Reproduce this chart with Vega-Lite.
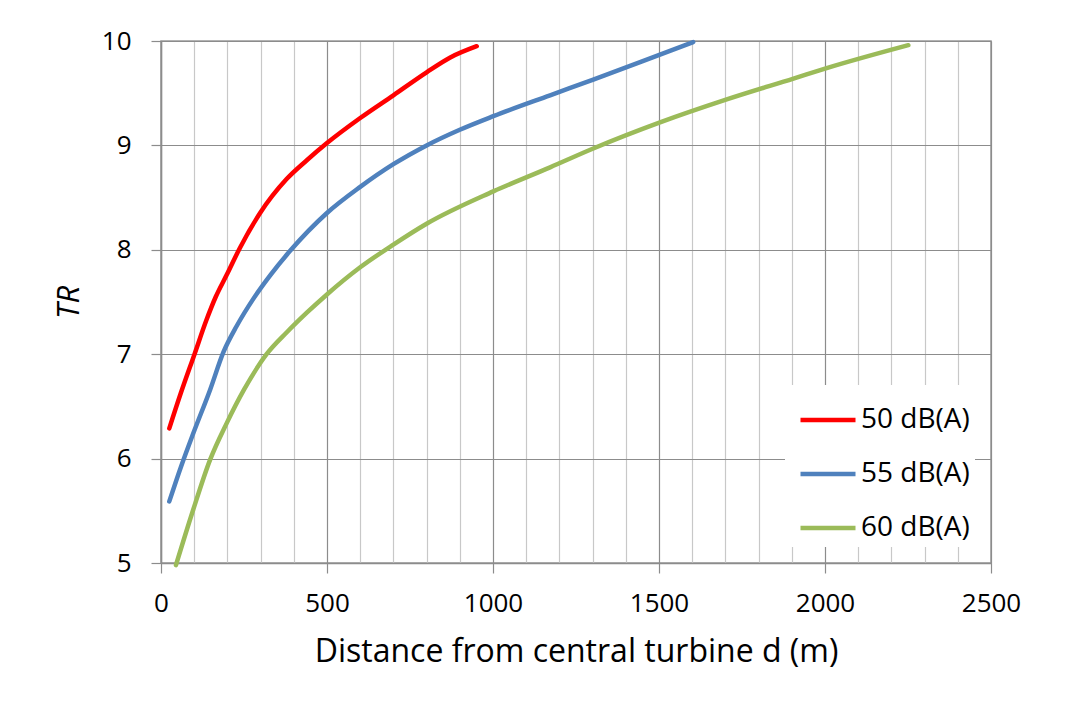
{
  "$schema": "https://vega.github.io/schema/vega-lite/v6.json",
  "width": 830,
  "height": 522,
  "autosize": {"type": "none"},
  "padding": {"left": 161, "top": 41, "right": 78, "bottom": 139},
  "background": "white",
  "config": {
    "font": "Open Sans",
    "view": {"stroke": "#999999", "strokeWidth": 1.5}
  },
  "data": {
    "values": [
      {"d": 25, "TR": 6.29, "series": "50 dB(A)"},
      {"d": 60, "TR": 6.63, "series": "50 dB(A)"},
      {"d": 102, "TR": 7.01, "series": "50 dB(A)"},
      {"d": 136, "TR": 7.32, "series": "50 dB(A)"},
      {"d": 165, "TR": 7.55, "series": "50 dB(A)"},
      {"d": 198, "TR": 7.76, "series": "50 dB(A)"},
      {"d": 238, "TR": 8.02, "series": "50 dB(A)"},
      {"d": 298, "TR": 8.35, "series": "50 dB(A)"},
      {"d": 379, "TR": 8.68, "series": "50 dB(A)"},
      {"d": 440, "TR": 8.86, "series": "50 dB(A)"},
      {"d": 499, "TR": 9.02, "series": "50 dB(A)"},
      {"d": 599, "TR": 9.26, "series": "50 dB(A)"},
      {"d": 700, "TR": 9.48, "series": "50 dB(A)"},
      {"d": 800, "TR": 9.7, "series": "50 dB(A)"},
      {"d": 870, "TR": 9.84, "series": "50 dB(A)"},
      {"d": 951, "TR": 9.95, "series": "50 dB(A)"},
      {"d": 25, "TR": 5.59, "series": "55 dB(A)"},
      {"d": 60, "TR": 5.92, "series": "55 dB(A)"},
      {"d": 97, "TR": 6.24, "series": "55 dB(A)"},
      {"d": 148, "TR": 6.66, "series": "55 dB(A)"},
      {"d": 188, "TR": 7.02, "series": "55 dB(A)"},
      {"d": 228, "TR": 7.27, "series": "55 dB(A)"},
      {"d": 278, "TR": 7.53, "series": "55 dB(A)"},
      {"d": 330, "TR": 7.76, "series": "55 dB(A)"},
      {"d": 389, "TR": 7.99, "series": "55 dB(A)"},
      {"d": 499, "TR": 8.35, "series": "55 dB(A)"},
      {"d": 599, "TR": 8.6, "series": "55 dB(A)"},
      {"d": 700, "TR": 8.82, "series": "55 dB(A)"},
      {"d": 800, "TR": 9.0, "series": "55 dB(A)"},
      {"d": 900, "TR": 9.15, "series": "55 dB(A)"},
      {"d": 1001, "TR": 9.28, "series": "55 dB(A)"},
      {"d": 1172, "TR": 9.48, "series": "55 dB(A)"},
      {"d": 1302, "TR": 9.63, "series": "55 dB(A)"},
      {"d": 1503, "TR": 9.87, "series": "55 dB(A)"},
      {"d": 1603, "TR": 9.99, "series": "55 dB(A)"},
      {"d": 45, "TR": 4.98, "series": "60 dB(A)"},
      {"d": 97, "TR": 5.51, "series": "60 dB(A)"},
      {"d": 148, "TR": 5.99, "series": "60 dB(A)"},
      {"d": 198, "TR": 6.34, "series": "60 dB(A)"},
      {"d": 250, "TR": 6.66, "series": "60 dB(A)"},
      {"d": 318, "TR": 7.0, "series": "60 dB(A)"},
      {"d": 379, "TR": 7.21, "series": "60 dB(A)"},
      {"d": 440, "TR": 7.4, "series": "60 dB(A)"},
      {"d": 499, "TR": 7.57, "series": "60 dB(A)"},
      {"d": 599, "TR": 7.83, "series": "60 dB(A)"},
      {"d": 700, "TR": 8.05, "series": "60 dB(A)"},
      {"d": 800, "TR": 8.25, "series": "60 dB(A)"},
      {"d": 1001, "TR": 8.56, "series": "60 dB(A)"},
      {"d": 1172, "TR": 8.79, "series": "60 dB(A)"},
      {"d": 1302, "TR": 8.97, "series": "60 dB(A)"},
      {"d": 1503, "TR": 9.22, "series": "60 dB(A)"},
      {"d": 1704, "TR": 9.44, "series": "60 dB(A)"},
      {"d": 1905, "TR": 9.64, "series": "60 dB(A)"},
      {"d": 2005, "TR": 9.74, "series": "60 dB(A)"},
      {"d": 2251, "TR": 9.96, "series": "60 dB(A)"}
    ]
  },
  "mark": {"type": "line", "strokeWidth": 4.5, "strokeCap": "round", "strokeJoin": "round", "interpolate": "monotone"},
  "encoding": {
    "x": {
      "field": "d",
      "type": "quantitative",
      "scale": {"domain": [0, 2500], "nice": false},
      "axis": {
        "values": [0, 100, 200, 300, 400, 500, 600, 700, 800, 900, 1000, 1100, 1200, 1300, 1400, 1500, 1600, 1700, 1800, 1900, 2000, 2100, 2200, 2300, 2400, 2500],
        "format": "d",
        "labelExpr": "datum.value % 500 === 0 ? datum.label : ''",
        "tickOpacity": {"condition": {"test": "datum.value % 500 === 0", "value": 1}, "value": 0},
        "gridColor": {"condition": {"test": "datum.value % 500 === 0", "value": "#8c8c8c"}, "value": "#c8c8c8"},
        "gridWidth": 1.2,
        "tickSize": 10,
        "tickColor": "#8c8c8c",
        "tickWidth": 1.2,
        "domainColor": "#8c8c8c",
        "domainWidth": 1.5,
        "labelFontSize": 26,
        "labelColor": "black",
        "labelPadding": 17,
        "labelFlush": false,
        "title": "Distance from central turbine d (m)",
        "titleFontSize": 32,
        "titleFontWeight": "normal",
        "titleColor": "black",
        "titlePadding": 20
      }
    },
    "y": {
      "field": "TR",
      "type": "quantitative",
      "scale": {"domain": [5, 10], "nice": false},
      "axis": {
        "values": [5, 6, 7, 8, 9, 10],
        "gridColor": "#8c8c8c",
        "gridWidth": 1.2,
        "tickSize": 10,
        "tickColor": "#8c8c8c",
        "tickWidth": 1.2,
        "domainColor": "#8c8c8c",
        "domainWidth": 1.5,
        "labelFontSize": 26,
        "labelColor": "black",
        "labelPadding": 20,
        "labelFlush": false,
        "title": "TR",
        "titleFontSize": 31,
        "titleFontStyle": "italic",
        "titleFontWeight": "normal",
        "titleColor": "black",
        "titlePadding": 16
      }
    },
    "color": {
      "field": "series",
      "type": "nominal",
      "scale": {"domain": ["50 dB(A)", "55 dB(A)", "60 dB(A)"], "range": ["#FF0000", "#4F81BD", "#9BBB59"]},
      "legend": {
        "title": null,
        "orient": "bottom-right",
        "offset": 16,
        "fillColor": "white",
        "padding": 5,
        "symbolOffset": 8,
        "symbolType": "stroke",
        "symbolSize": 3025,
        "symbolStrokeWidth": 4.5,
        "labelFontSize": 28,
        "labelColor": "black",
        "labelOffset": 3,
        "rowPadding": 10
      }
    }
  }
}
